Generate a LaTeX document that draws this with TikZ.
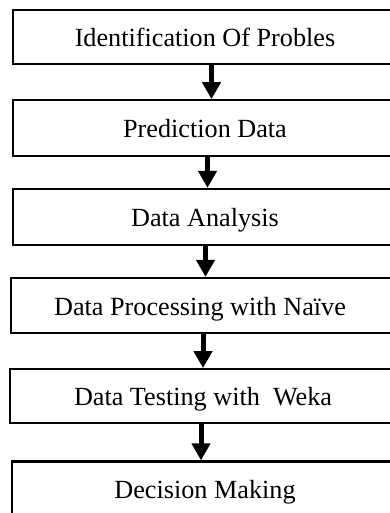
\documentclass[tikz,border=0pt]{standalone}
\usepackage{fontspec}
\setmainfont{Liberation Serif}
\usetikzlibrary{arrows.meta}
\begin{document}
\begin{tikzpicture}[x=1pt,y=1pt,
  stepbox/.style={draw=black, line width=2.3pt, rectangle, inner sep=0pt,
    text height=19pt, text depth=0pt, font=\fontsize{26.2}{30}\selectfont},
  flow/.style={line width=5pt, -{Triangle[width=18pt,length=17pt]}}]
\useasboundingbox (0,0) rectangle (390,-513);
\clip (0,0) rectangle (390,-513);
\node[stepbox, minimum width=384pt, minimum height=54pt] (b1) at (205,-37) {Identification Of Probles};
\node[stepbox, minimum width=384pt, minimum height=56pt] (b2) at (205,-128.3) {Prediction Data};
\node[stepbox, minimum width=384pt, minimum height=56pt] (b3) at (205,-217) {Data Analysis};
\node[stepbox, minimum width=388pt, minimum height=55pt] (b4) at (205,-305.5) {\hspace*{-10pt}Data Processing with Naïve};
\node[stepbox, minimum width=390pt, minimum height=54pt] (b5) at (205,-396.2) {\hspace*{-4pt}Data Testing with \ Weka};
\node[stepbox, minimum width=386pt, minimum height=55pt] (b6) at (205,-489) {Decision Making};
\draw[flow] ([xshift=6.5pt]b1.south) -- ([xshift=6.5pt]b2.north);
\draw[flow] ([xshift=2.5pt]b2.south) -- ([xshift=2.5pt]b3.north);
\draw[flow] ([xshift=0.5pt]b3.south) -- ([xshift=0.5pt]b4.north);
\draw[flow] ([xshift=-2pt]b4.south) -- ([xshift=-2pt]b5.north);
\draw[flow] ([xshift=-4pt]b5.south) -- ([xshift=-4pt]b6.north);
\end{tikzpicture}
\end{document}
